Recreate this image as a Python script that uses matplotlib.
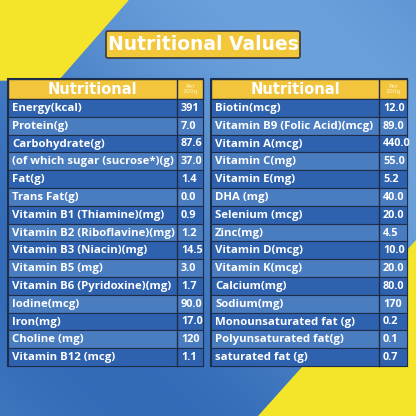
import matplotlib
matplotlib.use("Agg")
import matplotlib.pyplot as plt
from matplotlib.patches import Rectangle, Polygon, FancyBboxPatch
import numpy as np

title = "Nutritional Values"
header = "Nutritional"
per = "Per\n100g"
left_names = ["Energy(kcal)", "Protein(g)", "Carbohydrate(g)", "(of which sugar (sucrose*)(g)",
              "Fat(g)", "Trans Fat(g)", "Vitamin B1 (Thiamine)(mg)", "Vitamin B2 (Riboflavine)(mg)",
              "Vitamin B3 (Niacin)(mg)", "Vitamin B5 (mg)", "Vitamin B6 (Pyridoxine)(mg)",
              "Iodine(mcg)", "Iron(mg)", "Choline (mg)", "Vitamin B12 (mcg)"]
left_values = ["391", "7.0", "87.6", "37.0", "1.4", "0.0", "0.9", "1.2", "14.5", "3.0", "1.7",
               "90.0", "17.0", "120", "1.1"]
right_names = ["Biotin(mcg)", "Vitamin B9 (Folic Acid)(mcg)", "Vitamin A(mcg)", "Vitamin C(mg)",
               "Vitamin E(mg)", "DHA (mg)", "Selenium (mcg)", "Zinc(mg)", "Vitamin D(mcg)",
               "Vitamin K(mcg)", "Calcium(mg)", "Sodium(mg)", "Monounsaturated fat (g)",
               "Polyunsaturated fat(g)", "saturated fat (g)"]
right_values = ["12.0", "89.0", "440.0", "55.0", "5.2", "40.0", "20.0", "4.5", "10.0", "20.0",
                "80.0", "170", "0.2", "0.1", "0.7"]

fig = plt.figure(figsize=(4.16, 4.16), dpi=100)
ax = fig.add_axes([0, 0, 1, 1])
ax.set_xlim(0, 416); ax.set_ylim(416, 0); ax.axis("off")

xx, yy = np.meshgrid(np.linspace(0, 1, 200), np.linspace(0, 1, 200))
g = 0.5 + 0.5 * np.sin((xx - yy) * 2.5)
c1 = np.array([0.20, 0.42, 0.72]); c2 = np.array([0.42, 0.63, 0.86])
img = c1[None, None, :] * (1 - g[..., None]) + c2[None, None, :] * g[..., None]
ax.imshow(img, extent=(0, 416, 416, 0), zorder=0, aspect="auto")
yel = "#f5e52a"
ax.add_patch(Polygon([(0, 0), (128, 0), (58, 80), (0, 80)], color=yel, zorder=1))
ax.add_patch(Polygon([(416, 240), (416, 416), (258, 416)], color=yel, zorder=1))

ax.add_patch(FancyBboxPatch((106, 31), 194, 27, boxstyle="round,pad=0,rounding_size=2",
                            fc="#f3c73a", ec="#3a3a3a", lw=1.2, zorder=2))
ax.text(203, 45, title, ha="center", va="center", color="white", fontsize=13.5,
        fontweight="bold", family="DejaVu Sans", zorder=3)

def table(x0, x1, xs, names, values):
    top = 79; hh = 20; rh = 17.8
    ax.add_patch(Rectangle((x0, top), x1 - x0, hh + rh * len(names), fc="#2a4f8a",
                           ec="#1e2d48", lw=1.5, zorder=2))
    ax.add_patch(Rectangle((x0, top), x1 - x0, hh, fc="#f2c53d", ec="#1e2d48", lw=1, zorder=3))
    ax.text((x0 + xs) / 2, top + hh / 2 + 0.5, header, ha="center", va="center", color="white",
            fontsize=10.5, fontweight="bold", zorder=4)
    ax.text((xs + x1) / 2, top + hh / 2, per, ha="center", va="center", color="#fff3c0",
            fontsize=4.5, linespacing=1.0, zorder=4)
    for i, (n, v) in enumerate(zip(names, values)):
        y = top + hh + i * rh
        fc = "#2f62ae" if i % 2 == 0 else "#4a7cc0"
        ax.add_patch(Rectangle((x0, y), x1 - x0, rh, fc=fc, ec="#1e2d48", lw=0.8, zorder=3))
        ax.text(x0 + 4, y + rh / 2 + 0.5, n, ha="left", va="center", color="white",
                fontsize=8.2, fontweight="bold", family="Open Sans", zorder=4)
        ax.text(xs + 4, y + rh / 2 + 0.5, v, ha="left", va="center", color="white",
                fontsize=7.8, fontweight="bold", family="Open Sans", zorder=4)
    ax.plot([xs, xs], [top, top + hh + rh * len(names)], color="#1e2d48", lw=1, zorder=5)

table(8, 203, 177, left_names, left_values)
table(211, 407, 379, right_names, right_values)

fig.savefig("out.png", dpi=100)
